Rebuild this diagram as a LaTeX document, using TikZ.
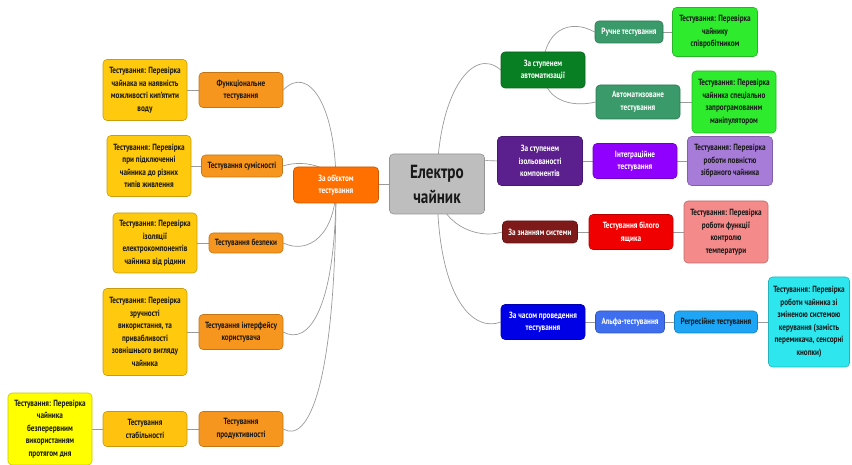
\documentclass[tikz,border=0pt]{standalone}
\usepackage{fontspec}
\setmainfont{PT Sans}[FakeStretch=0.8]
\usetikzlibrary{backgrounds}

\definecolor{rootgray}{HTML}{BEBEBE}
\definecolor{objorange}{HTML}{FF7000}
\definecolor{catorange}{HTML}{F7961E}
\definecolor{leafgold}{HTML}{FFC90E}
\definecolor{stabgold}{HTML}{FFC30F}
\definecolor{leafyellow}{HTML}{FFFF00}
\definecolor{autogreen}{HTML}{087F23}
\definecolor{manualgreen}{HTML}{3A9A6A}
\definecolor{leafgreen}{HTML}{2EEB2E}
\definecolor{isopurple}{HTML}{5B1F8E}
\definecolor{integviolet}{HTML}{8F00FF}
\definecolor{leaflavender}{HTML}{A77BD8}
\definecolor{knowred}{HTML}{7E1A1A}
\definecolor{whitered}{HTML}{F00000}
\definecolor{leafpink}{HTML}{F48A8A}
\definecolor{timeblue}{HTML}{0000E6}
\definecolor{alphablue}{HTML}{3F6FEF}
\definecolor{regressblue}{HTML}{1EA5F5}
\definecolor{leafcyan}{HTML}{2EE6EE}
\definecolor{linkgray}{HTML}{9A9A9A}

\begin{document}
\begin{tikzpicture}[x=1pt, y=1pt,
    box/.style={draw=#1!78!black, fill=#1, rounded corners=4pt, line width=0.6pt,
        align=center, inner sep=1pt, minimum width=84pt, text=black!90,
        font=\bfseries\fontsize{9}{12.5}\selectfont},
    light/.style={text=white},
    link/.style={draw=linkgray, line width=0.7pt}]
    \useasboundingbox (0,0) rectangle (852,464);

    % root and left branch
    \node[box=rootgray, minimum width=95pt, minimum height=60pt, font=\bfseries\fontsize{19}{25}\selectfont] (root) at (437,280) {Електро\\чайник};
    \node[box=objorange, light, minimum width=85pt, minimum height=36pt] (obj) at (336,279) {За об'єктом\\тестування};

    \node[box=catorange, minimum height=35pt] (func) at (241,374) {Функціональне\\тестування};
    \node[box=catorange, minimum width=81pt, minimum height=22pt] (compat) at (242,298) {Тестування сумісності};
    \node[box=catorange, minimum width=74pt, minimum height=20pt] (safety) at (246,221) {Тестування безпеки};
    \node[box=catorange, minimum height=35pt] (iface) at (241,132) {Тестування інтерфейсу\\користувача};
    \node[box=catorange, minimum height=35pt] (perf) at (241,35) {Тестування\\продуктивності};
    \node[box=stabgold, minimum height=35pt] (stab) at (145,35) {Тестування\\стабільності};

    \node[box=leafgold, minimum height=61pt] (leaffunc) at (145,374) {Тестування: Перевірка\\чайнака на наявність\\можливості кип'ятити\\воду};
    \node[box=leafgold, minimum height=61pt] (leafcompat) at (149,298) {Тестування: Перевірка\\при підключенні\\чайника до різних\\типів живлення};
    \node[box=leafgold, minimum height=60pt] (leafsafety) at (155,221) {Тестування: Перевірка\\ізоляції\\електрокомпонентів\\чайника від рідини};
    \node[box=leafgold, minimum height=87pt] (leafiface) at (145,132) {Тестування: Перевірка\\зручності\\використання, та\\привабливості\\зовнішнього вигляду\\чайника};
    \node[box=leafyellow, minimum height=72pt] (leafstab) at (50,35) {Тестування: Перевірка\\чайника\\безперервним\\використанням\\протягом дня};

    % right branches
    \node[box=autogreen, light, minimum height=36pt] (auto) at (543,394) {За ступенем\\автоматизації};
    \node[box=manualgreen, light, minimum width=68pt, minimum height=22pt] (manual) at (629,432) {Ручне тестування};
    \node[box=manualgreen, light, minimum height=34pt] (automated) at (638,362) {Автоматизоване\\тестування};
    \node[box=leafgreen, minimum width=85pt, minimum height=49pt] (leafmanual) at (715,432) {Тестування: Перевірка\\чайнику\\співробітником};
    \node[box=leafgreen, minimum height=62pt] (leafauto) at (734,362) {Тестування: Перевірка\\чайника спеціально\\запрограмованим\\маніпулятором};

    \node[box=isopurple, light, minimum width=85pt, minimum height=49pt] (iso) at (540,303) {За ступенем\\ізольованості\\компонентів};
    \node[box=integviolet, light, minimum height=35pt] (integ) at (635,303) {Інтеграційне\\тестування};
    \node[box=leaflavender, minimum width=85pt, minimum height=49pt] (leafinteg) at (730,303) {Тестування: Перевірка\\роботи повністю\\зібраного чайника};

    \node[box=knowred, light, minimum width=75pt, minimum height=22pt] (know) at (540,232) {За знанням системи};
    \node[box=whitered, light, minimum height=35pt] (whitebox) at (631,232) {Тестування білого\\ящика};
    \node[box=leafpink, minimum height=62pt] (leafwhite) at (726,232) {Тестування: Перевірка\\роботи функції\\контролю\\температури};

    \node[box=timeblue, light, minimum height=35pt] (time) at (543,142) {За часом проведення\\тестування};
    \node[box=alphablue, light, minimum width=69pt, minimum height=22pt] (alpha) at (630,142) {Альфа-тестування};
    \node[box=regressblue, minimum width=83pt, minimum height=22pt] (regress) at (716,142) {Регресійне тестування};
    \node[box=leafcyan, minimum width=81pt, minimum height=90pt] (leafregress) at (809,142) {Тестування: Перевірка\\роботи чайника зі\\зміненою системою\\керування (замість\\перемикача, сенсорні\\кнопки)};

    \begin{scope}[on background layer]
        \path (root) edge[link] (obj);
        \draw[link] (obj.center) .. controls +(0,80) and +(25,26) .. (func.east);
        \draw[link] (obj.center) .. controls +(0,15) and +(25,8) .. (compat.east);
        \draw[link] (obj.center) .. controls +(0,-50) and +(25,-12) .. (safety.east);
        \draw[link] (obj.center) .. controls +(0,-125) and +(25,-14) .. (iface.east);
        \draw[link] (obj.center) .. controls +(0,-200) and +(25,-15) .. (perf.east);
        \path (leaffunc) edge[link] (func);
        \path (leafcompat) edge[link] (compat);
        \path (leafsafety) edge[link] (safety);
        \path (leafiface) edge[link] (iface);
        \path (leafstab) edge[link] (stab);
        \path (stab) edge[link] (perf);

        \draw[link] (root.center) .. controls +(0,90) and +(-28,25) .. (auto.west);
        \draw[link] (root.center) .. controls +(0,20) and +(-25,2) .. (iso.west);
        \draw[link] (root.center) .. controls +(0,-40) and +(-25,-8) .. (know.west);
        \draw[link] (root.center) .. controls +(0,-120) and +(-25,-10) .. (time.west);
        \draw[link] (auto.center) .. controls +(0,40) and +(-25,14) .. (manual.west);
        \draw[link] (auto.center) .. controls +(0,-30) and +(-25,-6) .. (automated.west);
        \path (manual) edge[link] (leafmanual);
        \path (automated) edge[link] (leafauto);
        \path (iso) edge[link] (integ);
        \path (integ) edge[link] (leafinteg);
        \path (know) edge[link] (whitebox);
        \path (whitebox) edge[link] (leafwhite);
        \path (time) edge[link] (alpha);
        \path (alpha) edge[link] (regress);
        \path (regress) edge[link] (leafregress);
    \end{scope}
\end{tikzpicture}
\end{document}
